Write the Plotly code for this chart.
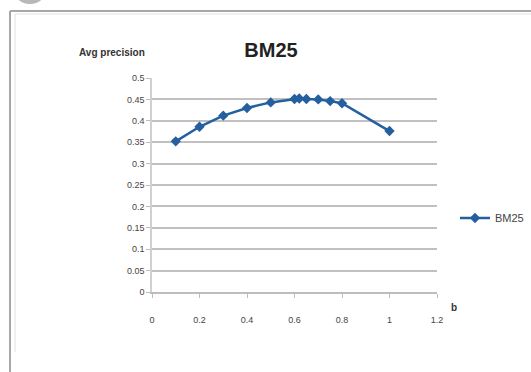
import plotly.graph_objects as go

b_values = [0.1, 0.2, 0.3, 0.4, 0.5, 0.6, 0.62, 0.65, 0.7, 0.75, 0.8, 1.0]
avg_precision = [0.352, 0.386, 0.412, 0.430, 0.443, 0.451, 0.452, 0.451, 0.450, 0.446, 0.441, 0.376]
x_ticks = [0, 0.2, 0.4, 0.6, 0.8, 1, 1.2]
y_ticks = [0, 0.05, 0.1, 0.15, 0.2, 0.25, 0.3, 0.35, 0.4, 0.45, 0.5]

blue = "#24609f"
tickfont = dict(family="Liberation Sans, Arial, sans-serif", size=9, color="#444444")

fig = go.Figure()
fig.add_trace(go.Scatter(
    x=b_values, y=avg_precision, mode="lines+markers", name="BM25",
    line=dict(color=blue, width=2.5),
    marker=dict(symbol="diamond", size=8, color=blue),
))

fig.update_layout(
    width=531, height=372,
    margin=dict(l=152, r=94, t=78, b=80),
    paper_bgcolor="white", plot_bgcolor="white",
    showlegend=True,
    legend=dict(xref="container", yref="container", x=455/531, y=1-218/372,
                xanchor="left", yanchor="middle",
                font=dict(family="Liberation Sans, Arial, sans-serif", size=11, color="#444444"),
                bgcolor="rgba(0,0,0,0)", itemwidth=30),
    title=dict(text="<b>BM25</b>", x=271/531, xanchor="center", y=1-50/372, yanchor="middle",
               font=dict(family="Liberation Sans, Arial, sans-serif", size=20, color="#222222")),
    xaxis=dict(range=[0, 1.2], tickvals=x_ticks, ticktext=[f"{v:g}" for v in x_ticks],
               showgrid=False, zeroline=False, showline=True, linecolor="#bdbdbd", linewidth=1.5,
               ticks="outside", ticklen=4, tickcolor="#bdbdbd", tickfont=tickfont,
               ticklabelstandoff=14),
    yaxis=dict(range=[0, 0.5], tickvals=y_ticks, ticktext=[f"{v:g}" for v in y_ticks],
               showgrid=True, gridcolor="#c0c0c0", gridwidth=2.2, zeroline=False,
               showline=True, linecolor="#d0d0d0", linewidth=1.5,
               ticks="outside", ticklen=4, tickcolor="#bdbdbd", tickfont=tickfont),
    annotations=[
        dict(text="<b>Avg precision</b>", xref="paper", yref="paper", x=(77-152)/285, y=(292-52)/214,
             xanchor="left", yanchor="middle", showarrow=False,
             font=dict(family="Liberation Sans, Arial, sans-serif", size=10, color="#333333")),
        dict(text="<b>b</b>", xref="paper", yref="paper", x=(454-152)/285, y=(292-307)/214,
             xanchor="center", yanchor="middle", showarrow=False,
             font=dict(family="Liberation Sans, Arial, sans-serif", size=10, color="#333333")),
    ],
    shapes=[
        dict(type="circle", xref="paper", yref="paper",
             x0=(12-152)/285, x1=(48-152)/285, y0=(292-4)/214, y1=(292+32)/214,
             fillcolor="#b8b8b8", line=dict(width=0), layer="below"),
        dict(type="line", xref="paper", yref="paper", x0=(10-152)/285, x1=(540-152)/285,
             y0=(292-11)/214, y1=(292-11)/214, line=dict(color="#a8a8a8", width=2)),
        dict(type="line", xref="paper", yref="paper", x0=(10-152)/285, x1=(10-152)/285,
             y0=(292-11)/214, y1=(292-380)/214, line=dict(color="#a8a8a8", width=2)),
        dict(type="line", xref="paper", yref="paper", x0=(15-152)/285, x1=(540-152)/285,
             y0=(292-14)/214, y1=(292-14)/214, line=dict(color="#e2e2e2", width=1)),
        dict(type="line", xref="paper", yref="paper", x0=(15-152)/285, x1=(15-152)/285,
             y0=(292-14)/214, y1=(292-352)/214, line=dict(color="#e2e2e2", width=1)),
    ],
)

fig.write_html("out.html")
